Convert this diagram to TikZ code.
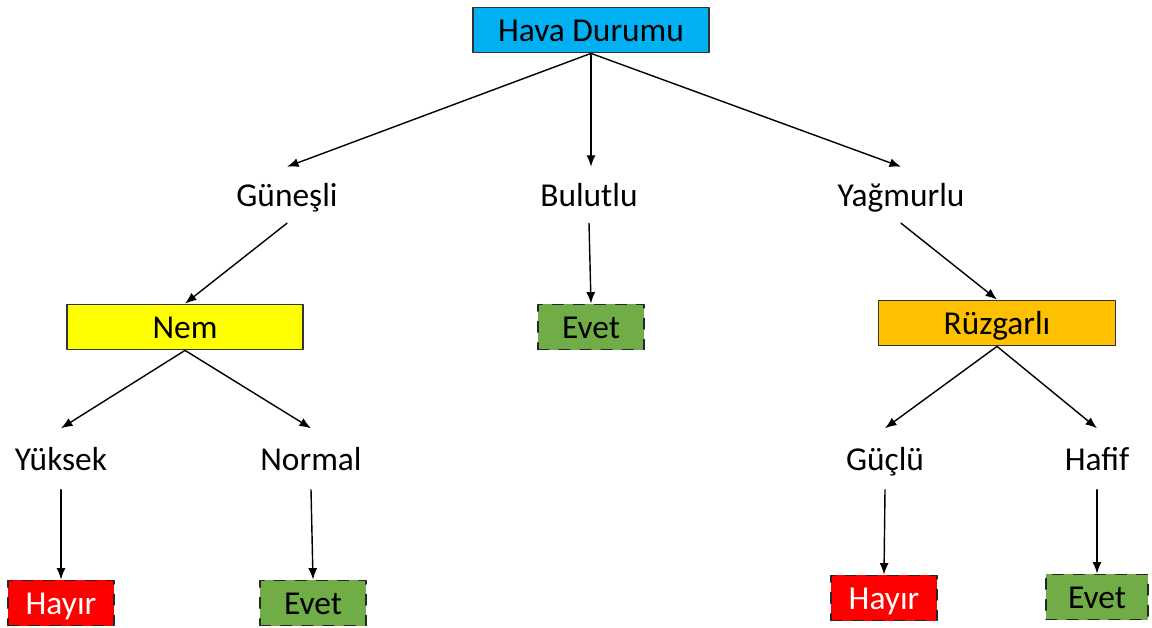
\documentclass[tikz,border=0pt]{standalone}
\usepackage{fontspec}
\setmainfont{Carlito}
\usepackage{xcolor}
\usetikzlibrary{arrows.meta}
\definecolor{havablue}{HTML}{00B0F0}
\definecolor{nemyellow}{HTML}{FFFF00}
\definecolor{ruzorange}{HTML}{FFC000}
\definecolor{evetgreen}{HTML}{70AD47}
\definecolor{hayirred}{HTML}{FF0000}

\begin{document}
\begin{tikzpicture}[line cap=round,line join=round,>={Latex[length=1.15mm,width=0.9mm]},x=0.01cm,y=-0.01cm,
    font=\fontsize{9.5}{11}\selectfont,
    every node/.style={text height=1.65ex,text depth=0.3ex},
    attrbox/.style={draw=black!80,line width=0.5pt,minimum width=2.36cm,minimum height=0.45cm,inner sep=0pt},
    leafbox/.style={draw=black!85,dashed,line width=0.5pt,minimum width=1.06cm,minimum height=0.45cm,inner sep=0pt},
    valtext/.style={inner sep=0pt,minimum height=0.55cm},
    lowtext/.style={inner sep=0pt,minimum height=0.6cm},
    link/.style={->,line width=0.4pt}]
                \useasboundingbox (0,0) rectangle (1152,628);
                % nodes
                \node [attrbox,fill=havablue] (hava) at (591,30) {Hava Durumu};
                \node [valtext] (gunesli) at (287,195) {Güneşli};
                \node [valtext] (bulutlu) at (589,195) {Bulutlu};
                \node [valtext] (yagmurlu) at (901,195) {Yağmurlu};
                \node [attrbox,fill=nemyellow] (nem) at (185,327) {Nem};
                \node [leafbox,fill=evetgreen] (evetb) at (591,327) {Evet};
                \node [attrbox,fill=ruzorange,minimum width=2.37cm] (ruzgarli) at (997,323) {Rüzgarlı};
                \node [lowtext] (yuksek) at (61,459) {Yüksek};
                \node [lowtext] (normal) at (311,459) {Normal};
                \node [lowtext] (guclu) at (885,459) {Güçlü};
                \node [lowtext] (hafif) at (1097,459) {Hafif};
                \node [leafbox,fill=hayirred,text=white] (hayiry) at (61,603) {Hayır};
                \node [leafbox,fill=evetgreen] (evetn) at (313,603) {Evet};
                \node [leafbox,fill=hayirred,text=white] (hayirg) at (884,598) {Hayır};
                \node [leafbox,fill=evetgreen,minimum width=1.02cm] (eveth) at (1097,597) {Evet};
                % connectors
                \draw [link] (hava.south) -- (gunesli.north);
                \draw [link] (hava.south) -- (bulutlu.north -| hava.south);
                \draw [link] (hava.south) -- (yagmurlu.north);
                \draw [link] (gunesli.south) -- (nem.north);
                \draw [link] (bulutlu.south) -- (evetb.north);
                \draw [link] (yagmurlu.south) -- (ruzgarli.north);
                \draw [link] (nem.south) -- (yuksek.north);
                \draw [link] (nem.south) -- (normal.north);
                \draw [link] (ruzgarli.south) -- (guclu.north);
                \draw [link] (ruzgarli.south) -- (hafif.north);
                \draw [link] (yuksek.south) -- (hayiry.north);
                \draw [link] (normal.south) -- (evetn.north);
                \draw [link] (guclu.south) -- (hayirg.north);
                \draw [link] (hafif.south) -- (eveth.north);
            \end{tikzpicture}
\end{document}
